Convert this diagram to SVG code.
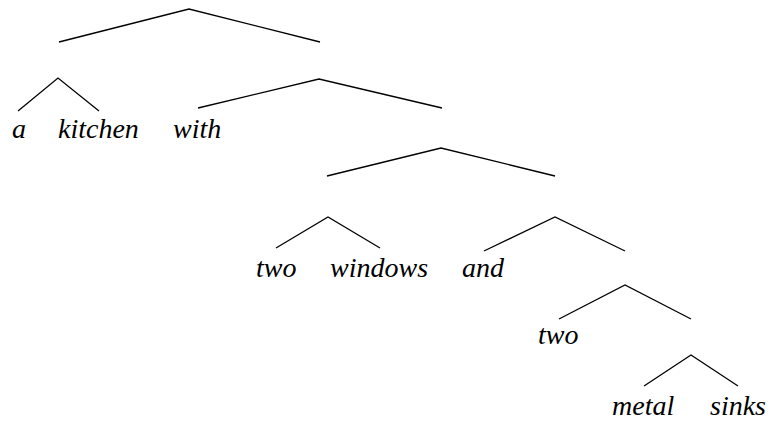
<svg xmlns="http://www.w3.org/2000/svg" width="771" height="425" viewBox="0 0 771 425">
<style>
.e{fill:none;stroke:#000;stroke-width:1.3;stroke-linejoin:miter}
</style>
<rect width="771" height="425" fill="#fff"/>
<g id="connectors">
<polyline class="e" points="59,42 189,9 320,42"/>
<polyline class="e" points="18,111 58,78 99,111"/>
<polyline class="e" points="198,108 319,79 442,108"/>
<polyline class="e" points="327,176 441,148 555,176"/>
<polyline class="e" points="276,248 328,217 380,248"/>
<polyline class="e" points="484,251 555,217 625,251"/>
<polyline class="e" points="559,319 625,285 691,319"/>
<polyline class="e" points="644,386 691,355 738,386"/>
</g>
<g id="w-a"><text x="12" y="138" font-family="Liberation Serif" font-style="italic" font-size="28">a</text></g>
<g id="w-kitchen"><text x="58" y="138" font-family="Liberation Serif" font-style="italic" font-size="28">kitchen</text></g>
<g id="w-with"><text x="173" y="138" font-family="Liberation Serif" font-style="italic" font-size="28">with</text></g>
<g id="w-two1"><text x="256" y="277" font-family="Liberation Serif" font-style="italic" font-size="28">two</text></g>
<g id="w-windows"><text x="330" y="277" font-family="Liberation Serif" font-style="italic" font-size="28">windows</text></g>
<g id="w-and"><text x="462" y="277" font-family="Liberation Serif" font-style="italic" font-size="28">and</text></g>
<g id="w-two2"><text x="538" y="344" font-family="Liberation Serif" font-style="italic" font-size="28">two</text></g>
<g id="w-metal"><text x="612" y="415" font-family="Liberation Serif" font-style="italic" font-size="28">metal</text></g>
<g id="w-sinks"><text x="710" y="415" font-family="Liberation Serif" font-style="italic" font-size="28">sinks</text></g>
</svg>
